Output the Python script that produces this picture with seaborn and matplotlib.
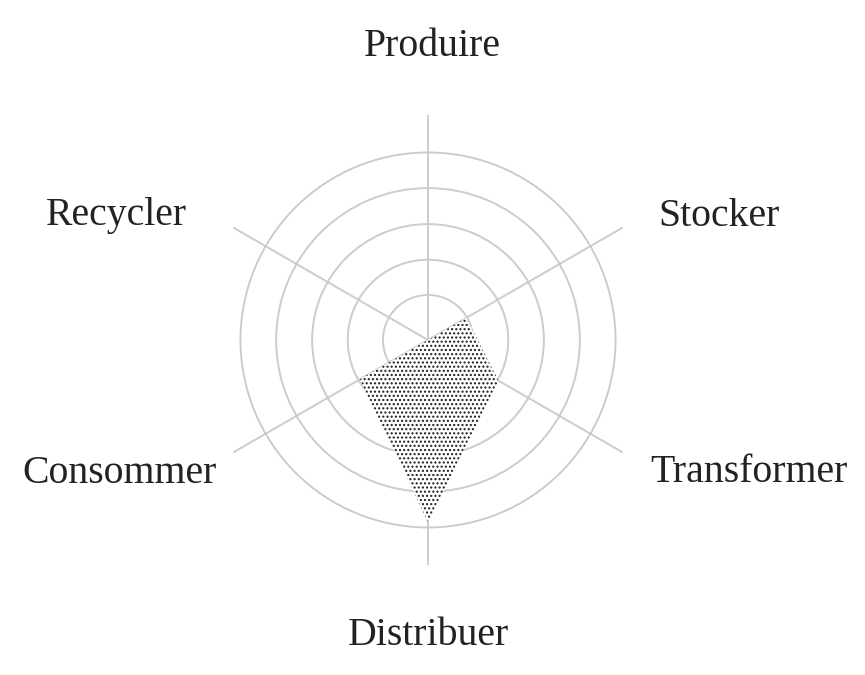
import numpy as np
import pandas as pd
import matplotlib
matplotlib.use("Agg")
import matplotlib.pyplot as plt
import seaborn as sns

# axes of the radar, clockwise from the top
categories = ["Produire", "Stocker", "Transformer", "Distribuer", "Consommer", "Recycler"]
values = [0.0, 1.18, 2.17, 4.85, 2.1, 0.0]
ring_levels = [1.2, 2.14, 3.09, 4.05, 5.0]
r_max = 6.0

sns.set_theme(style="white")
plt.rcParams["font.family"] = ["Liberation Serif", "DejaVu Serif"]
plt.rcParams["hatch.linewidth"] = 1.0

df = pd.DataFrame({"axis": categories, "value": values})
df["angle"] = np.deg2rad(np.arange(len(df)) * 360 / len(df))

fig = plt.figure(figsize=(8.65, 6.75), dpi=100)
ax = fig.add_axes([0.2347, 0.163, 0.5202, 0.6667], projection="polar")
ax.set_theta_zero_location("N")
ax.set_theta_direction(-1)

# closed polygon
theta = np.append(df["angle"].values, df["angle"].values[0])
r = np.append(df["value"].values, df["value"].values[0])
ax.fill(theta, r, facecolor="white", edgecolor="#1a1a1a", hatch="....",
        linewidth=0)

ax.set_ylim(0, r_max)
ax.set_yticks(ring_levels)
ax.set_yticklabels([])
ax.set_xticks(df["angle"].values)
ax.set_xticklabels([])
ax.grid(True, color="#cccccc", linewidth=1.4)
ax.spines["polar"].set_visible(False)
ax.set_facecolor("none")

# axis labels: (angle in degrees, radius, ha) per category
label_pos = [(0.8, 7.84, "center"), (61.7, 6.97, "left"), (120.9, 6.9, "left"),
             (180.0, 7.89, "center"), (237.6, 6.67, "right"), (297.4, 7.24, "right")]
for name, (ang, rad, ha) in zip(df["axis"], label_pos):
    ax.text(np.deg2rad(ang), rad, name, ha=ha, va="center", fontsize=28.6,
            color="#222222", clip_on=False)

fig.savefig("out.png", dpi=100)
